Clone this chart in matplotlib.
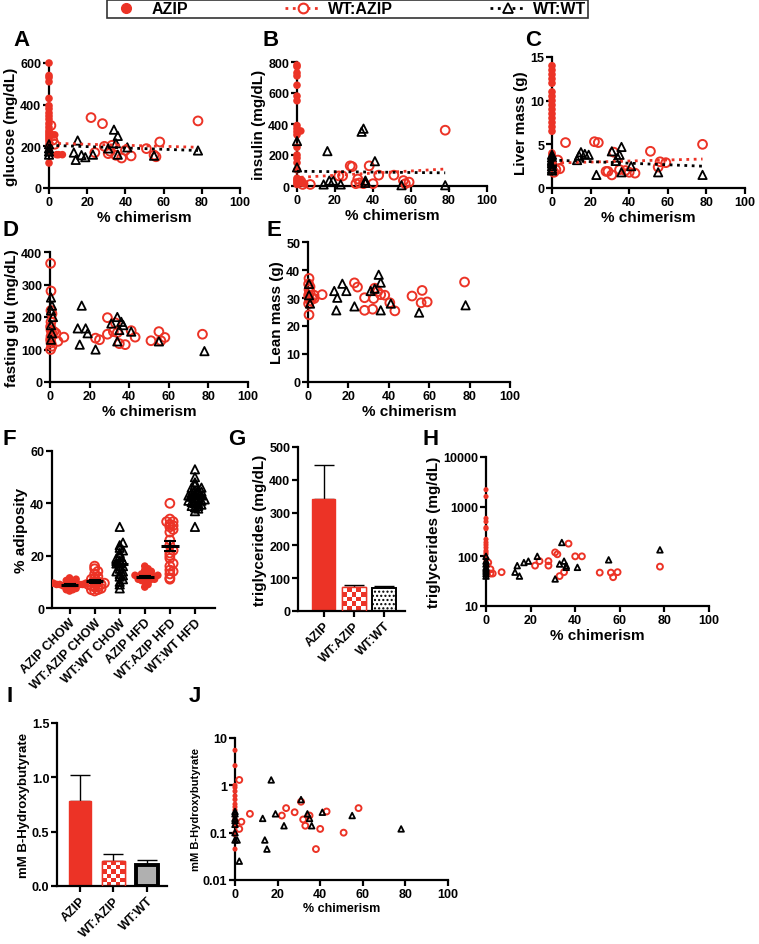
import numpy as np
import matplotlib
matplotlib.use("Agg")
import matplotlib.pyplot as plt
from matplotlib.lines import Line2D
from matplotlib.colors import ListedColormap

RED = "#ec3326"
W, H = 759, 945

# ---------------- data ----------------
# A: glucose
a_azip_x = [0] * 22 + [2, 3, 4, 5, 7]
a_azip_y = [600, 540, 530, 510, 430, 395, 380, 360, 345, 330, 310, 290, 275, 265,
            255, 245, 235, 225, 210, 200, 180, 120, 255, 255, 160, 160, 160]
a_wtazip_x = [1, 2, 3, 22, 24, 28, 29, 31, 32, 33, 35, 38, 40, 43, 51, 55, 56, 58, 78]
a_wtazip_y = [300, 230, 210, 338, 170, 309, 200, 165, 176, 205, 157, 144, 181, 154, 189, 158, 150, 221, 322]
a_wtwt_x = [0, 0, 0, 0, 13, 14, 15, 17, 19, 23, 31, 34, 35, 36, 36, 41, 55, 78]
a_wtwt_y = [210, 190, 175, 160, 170, 135, 228, 158, 148, 160, 190, 280, 215, 250, 160, 195, 155, 180]
a_fit = {"WT:AZIP": (215, -0.25), "WT:WT": (205, -0.32)}

# B: insulin
b_azip_x = [0] * 21 + [2, 2, 3, 4]
b_azip_y = [780, 770, 730, 710, 650, 580, 550, 390, 370, 350, 330, 250, 200, 180, 150,
            105, 50, 40, 30, 20, 10, 355, 30, 20, 15]
b_wtazip_x = [2, 3, 7, 22, 24, 28, 29, 31, 32, 33, 35, 38, 40, 43, 51, 56, 57, 59, 78]
b_wtazip_y = [30, 10, 10, 65, 65, 130, 125, 15, 45, 20, 15, 130, 15, 70, 70, 35, 15, 25, 360]
b_wtwt_x = [0, 0, 14, 16, 17, 19, 23, 34, 35, 36, 36, 41, 55, 78]
b_wtwt_y = [290, 120, 10, 225, 35, 35, 10, 350, 370, 35, 20, 160, 5, 5]
b_fit = {"WT:AZIP": (55, 0.7), "WT:WT": (95, -0.13)}

# C: liver mass
c_azip_x = [0] * 17
c_azip_y = [14, 13.5, 13, 12.5, 12, 11, 10.5, 10, 9.5, 9, 8.5, 8, 7.5, 7, 6.5, 4, 3.8]
c_wtazip_x = [1, 2, 3, 4, 7, 22, 24, 28, 29, 31, 32, 35, 38, 40, 43, 51, 55, 56, 59, 78]
c_wtazip_y = [1.8, 2.1, 3.2, 2.2, 5.2, 5.3, 5.2, 1.9, 1.9, 1.5, 4.1, 2.1, 2.0, 1.8, 1.7, 4.2, 2.4, 3.0, 2.9, 5.0]
c_wtwt_x = [0, 0, 0, 0, 0, 0, 0, 0, 13, 14, 15, 17, 19, 23, 31, 33, 34, 35, 36, 36, 41, 55, 78]
c_wtwt_y = [3.8, 3.5, 3.2, 3.0, 2.8, 2.5, 2.2, 2.0, 3.2, 3.7, 4.1, 3.9, 3.8, 1.5, 4.2, 3.1,
            3.5, 3.8, 4.7, 1.8, 2.5, 1.8, 1.5]
c_fit = {"WT:AZIP": (2.85, 0.006), "WT:WT": (3.2, -0.009)}

# D: fasting glucose
d_wtazip_x = [0.3, 0.5, 0.5, 1, 0.5, 0.3, 0.5, 1, 0.5, 0.3, 0.5, 1, 0.3, 2, 3, 4, 7,
              23, 25, 29, 29, 32, 33, 34, 35, 38, 41, 43, 51, 55, 56, 58, 77]
d_wtazip_y = [365, 280, 220, 210, 185, 170, 160, 150, 140, 130, 120, 110, 100, 155, 150, 125, 138,
              135, 130, 198, 147, 155, 182, 152, 118, 115, 158, 138, 127, 155, 127, 137, 147]
d_wtwt_x = [0.5, 1, 0.5, 1.5, 0.5, 1, 0.5, 14, 15, 16, 18, 19, 23, 31, 34, 34, 35, 36, 37, 41, 55, 78]
d_wtwt_y = [260, 235, 220, 200, 175, 150, 130, 165, 115, 235, 165, 150, 100, 180, 200, 125,
            160, 185, 175, 155, 125, 95]

# E: lean mass
e_wtazip_x = [0.5, 0.3, 0.5, 0.3, 0.5, 1, 0.3, 0.5, 1, 1, 2, 3, 3, 7,
              23, 24.5, 28, 28, 32, 32.5, 33, 34.5, 36, 38, 40.5, 43, 51.5, 56.5, 56, 59, 77.5]
e_wtazip_y = [37, 35, 33, 31, 30, 29, 28, 24, 34, 32, 30, 31, 29.8, 31.2,
              35.4, 33.9, 30.1, 25.6, 26, 29.8, 33.5, 32.3, 31.2, 31, 28.3, 25.4, 30.7, 32.7, 28.3, 28.6, 35.7]
e_wtwt_x = [0.5, 0.5, 1, 13, 14.5, 14, 17, 19, 23, 31, 33, 35, 36, 36, 41, 55, 78]
e_wtwt_y = [35, 31, 28, 32.5, 30.1, 25.6, 35.1, 32.5, 27, 32.5, 33.3, 38.3, 35.5, 25.6, 28, 24.8, 27.4]

# F: % adiposity
f_groups = ["AZIP CHOW", "WT:AZIP CHOW", "WT:WT CHOW", "AZIP HFD", "WT:AZIP HFD", "WT:WT HFD"]
f_vals = [
    [6.5, 7, 7.5, 8, 8, 8.5, 8.5, 9, 9, 9, 9.5, 9.5, 10, 10, 10.5, 11, 11.5, 7, 8, 9],
    [6.5, 7, 7, 7.5, 8, 8, 8.5, 9, 9, 9.5, 10, 10, 11, 11.5, 12, 13, 14, 15, 16],
    [7.5, 9, 10, 11, 12, 12.5, 13, 14, 15, 16, 17, 18, 19, 20, 21, 22, 23, 24, 25, 31, 14, 16, 18],
    [8, 9, 10, 10.5, 11, 11, 11.5, 11.5, 12, 12, 12, 12.5, 12.5, 13, 13, 14, 14.5, 15, 16, 10, 11, 12, 13],
    [11, 11.5, 13, 14, 14.5, 16, 17, 19, 20, 21, 22, 24, 26, 29, 30, 31, 31.5, 32, 33, 33, 34, 40],
    [31, 37, 38, 38.5, 39, 39, 39.5, 40, 40, 40.5, 41, 41, 41.5, 42, 42, 42.5, 43, 43, 43.5, 44,
     44, 44.5, 45, 45, 46, 46, 47, 48, 50, 53],
]
f_kind = ["AZIP", "WT:AZIP", "WT:WT", "AZIP", "WT:AZIP", "WT:WT"]

# G: triglycerides bars
bar_groups = ["AZIP", "WT:AZIP", "WT:WT"]
g_mean = [340, 72, 70]
g_sem = [105, 8, 6]

# H: triglycerides vs chimerism
h_azip_x = [0] * 16
h_azip_y = [2200, 1600, 580, 500, 380, 360, 220, 190, 170, 150, 130, 120, 110, 90, 80, 70]
h_wtazip_x = [1, 2, 2, 3, 7, 22, 24, 28, 28, 31, 32, 33, 35, 37, 40, 43, 51, 56, 57, 59, 78]
h_wtazip_y = [75, 55, 45, 45, 48, 65, 80, 80, 65, 120, 110, 40, 48, 180, 100, 100, 47, 47, 38, 48, 62]
h_wtwt_x = [0, 0, 0, 0, 0, 0, 0, 0, 13, 14, 15, 17, 19, 23, 31, 33, 34, 35, 36, 36, 41, 55, 78]
h_wtwt_y = [100, 80, 70, 60, 55, 50, 45, 40, 48, 65, 40, 75, 80, 100, 35, 70, 190, 80, 60, 65, 60, 85, 135]

# I: B-hydroxybutyrate bars
i_mean = [0.78, 0.23, 0.19]
i_sem = [0.24, 0.06, 0.05]

# J: B-hydroxybutyrate vs chimerism
j_azip_x = [0] * 16
j_azip_y = [5.5, 2.6, 1.0, 0.9, 0.75, 0.6, 0.5, 0.4, 0.35, 0.3, 0.25, 0.2, 0.15, 0.1, 0.09, 0.045]
j_wtazip_x = [2, 2, 3, 7, 22, 24, 28, 31, 32, 33, 35, 38, 40, 43, 51, 58]
j_wtazip_y = [1.3, 0.12, 0.17, 0.25, 0.23, 0.33, 0.27, 0.45, 0.19, 0.14, 0.23, 0.045, 0.12, 0.28, 0.1, 0.33]
j_wtwt_x = [0, 0, 0, 0, 0, 0, 0, 1, 2, 13, 14, 15, 17, 19, 23, 31, 34, 35, 36, 41, 55, 78]
j_wtwt_y = [0.28, 0.25, 0.2, 0.18, 0.15, 0.1, 0.07, 0.07, 0.025, 0.2, 0.07, 0.045, 1.3, 0.25,
            0.14, 0.5, 0.25, 0.2, 0.14, 0.27, 0.23, 0.12]

# ---------------- style ----------------
plt.rcParams["font.family"] = ["Liberation Sans", "DejaVu Sans"]
plt.rcParams["font.weight"] = "bold"
plt.rcParams["axes.labelweight"] = "bold"
plt.rcParams["axes.linewidth"] = 1.6
plt.rcParams["xtick.major.width"] = 1.6
plt.rcParams["ytick.major.width"] = 1.6
plt.rcParams["xtick.major.size"] = 4
plt.rcParams["ytick.major.size"] = 4
plt.rcParams["xtick.major.pad"] = 2
plt.rcParams["ytick.major.pad"] = 1.5
plt.rcParams["xtick.labelsize"] = 9
plt.rcParams["ytick.labelsize"] = 9
plt.rcParams["axes.labelsize"] = 11
plt.rcParams["axes.labelpad"] = 1.5

fig = plt.figure(figsize=(W / 100, H / 100), dpi=100)


def add_ax(l, r, t, b):
    ax = fig.add_axes([l / W, 1 - b / H, (r - l) / W, (b - t) / H])
    ax.spines["top"].set_visible(False)
    ax.spines["right"].set_visible(False)
    ax.patch.set_alpha(0)
    return ax


def styles(small=False):
    k = 0.45 if small else 1.0
    return {
        "AZIP": dict(marker="o", s=30 * k, color=RED, edgecolors="none"),
        "WT:AZIP": dict(marker="o", s=40 * k, facecolors="none", edgecolors=RED, linewidths=1.4),
        "WT:WT": dict(marker="^", s=36 * k, facecolors="none", edgecolors="black", linewidths=1.3),
    }


def chim_panel(ax, series, ylim, yticks, ylabel, fits=None, small=False, log=False, ytl=None):
    st = styles(small)
    for name, xs, ys in series:
        ax.scatter(xs, ys, clip_on=False, zorder=3, **st[name])
        if fits and name in fits:
            b0, b1 = fits[name]
            xr = np.array([min(xs), max(xs)])
            ax.plot(xr, b0 + b1 * xr, ls=":", lw=2, color=RED if name == "WT:AZIP" else "black",
                    zorder=4)
    if log:
        ax.set_yscale("log")
        ax.minorticks_off()
    ax.set_ylim(*ylim)
    ax.set_yticks(yticks)
    if ytl:
        ax.set_yticklabels(ytl)
    ax.set_xlim(0, 100)
    ax.set_xticks(range(0, 101, 20))
    ax.set_xlabel("% chimerism", fontsize=9 if small else 11)
    ax.set_ylabel(ylabel)


axA = add_ax(49, 240, 64, 189)
chim_panel(axA, [("AZIP", a_azip_x, a_azip_y), ("WT:AZIP", a_wtazip_x, a_wtazip_y),
                 ("WT:WT", a_wtwt_x, a_wtwt_y)], (0, 600), [0, 200, 400, 600],
           "glucose (mg/dL)", fits=a_fit)

axB = add_ax(297, 487, 63, 187)
chim_panel(axB, [("AZIP", b_azip_x, b_azip_y), ("WT:AZIP", b_wtazip_x, b_wtazip_y),
                 ("WT:WT", b_wtwt_x, b_wtwt_y)], (0, 800), [0, 200, 400, 600, 800],
           "insulin (mg/dL)", fits=b_fit)

axC = add_ax(552, 745, 58, 189)
chim_panel(axC, [("AZIP", c_azip_x, c_azip_y), ("WT:AZIP", c_wtazip_x, c_wtazip_y),
                 ("WT:WT", c_wtwt_x, c_wtwt_y)], (0, 15), [0, 5, 10, 15],
           "Liver mass (g)", fits=c_fit)

axD = add_ax(50, 248, 253, 383)
chim_panel(axD, [("WT:AZIP", d_wtazip_x, d_wtazip_y), ("WT:WT", d_wtwt_x, d_wtwt_y)],
           (0, 400), [0, 100, 200, 300, 400], "fasting glu (mg/dL)")

axE = add_ax(308, 510, 243, 383)
chim_panel(axE, [("WT:AZIP", e_wtazip_x, e_wtazip_y), ("WT:WT", e_wtwt_x, e_wtwt_y)],
           (0, 50), [0, 10, 20, 30, 40, 50], "Lean mass (g)")


# F: scatter dot plot with mean +- SEM
def swarm(vals, step, binw):
    vals = np.asarray(vals, float)
    order = np.argsort(vals, kind="stable")
    bins = np.floor(vals / binw)
    offs = np.zeros(len(vals))
    for b in np.unique(bins):
        idx = [i for i in order if bins[i] == b]
        for k, i in enumerate(idx):
            m = (k + 1) // 2
            offs[i] = m * step * (1 if k % 2 else -1)
    return offs


axF = add_ax(52, 215, 452, 609)
stF = styles()
for i, (vals, kind) in enumerate(zip(f_vals, f_kind)):
    xs = i + swarm(vals, 0.13, 1.6)
    axF.scatter(xs, vals, zorder=3, **stF[kind])
    m = np.mean(vals)
    se = np.std(vals, ddof=1) / np.sqrt(len(vals))
    axF.hlines(m, i - 0.35, i + 0.35, color="black", lw=2.2, zorder=5)
    axF.errorbar(i, m, yerr=se, fmt="none", ecolor="black", elinewidth=1.5, capsize=4,
                 capthick=1.5, zorder=5)
axF.set_xlim(-0.7, 5.8)
axF.set_ylim(0, 60)
axF.set_yticks([0, 20, 40, 60])
axF.set_xticks(range(len(f_groups)))
axF.set_xticklabels(f_groups, rotation=45, ha="right", rotation_mode="anchor", fontsize=9)
axF.set_ylabel("% adiposity")


def checker(ax, bar, nx, ny, color):
    x0, y0 = bar.get_x(), bar.get_y()
    w, h = bar.get_width(), bar.get_height()
    grid = np.add.outer(np.arange(ny), np.arange(nx)) % 2
    im = ax.imshow(grid, extent=(x0, x0 + w, y0, y0 + h), cmap=ListedColormap(["white", color]),
                   aspect="auto", origin="lower", interpolation="nearest", zorder=2)
    im.set_clip_path(bar)


def bar_panel(ax, means, sems, width, ylim, yticks, ylabel, ytl, wt_face, wt_hatch, wt_lw, ncheck):
    xs = np.arange(len(means))
    bars = ax.bar(xs, means, width=width, zorder=1)
    bars[0].set_facecolor(RED)
    bars[0].set_edgecolor(RED)
    bars[1].set_facecolor("white")
    bars[1].set_edgecolor(RED)
    bars[2].set_facecolor(wt_face)
    bars[2].set_edgecolor("black")
    bars[2].set_linewidth(wt_lw)
    if wt_hatch:
        bars[2].set_hatch(wt_hatch)
    checker(ax, bars[1], ncheck[0], ncheck[1], RED)
    ax.bar(xs[1], means[1], width=width, facecolor="none", edgecolor=RED, lw=1, zorder=3)
    ax.errorbar(xs, means, yerr=[np.zeros(len(sems)), sems], fmt="none", ecolor="black",
                elinewidth=1, capsize=7, capthick=1, zorder=0)
    ax.set_ylim(*ylim)
    ax.set_yticks(yticks)
    if ytl:
        ax.set_yticklabels(ytl)
    ax.set_xticks(xs)
    ax.set_xticklabels(bar_groups, rotation=45, ha="right", rotation_mode="anchor", fontsize=9)
    ax.set_ylabel(ylabel)


axG = add_ax(298, 405, 448, 612)
bar_panel(axG, g_mean, g_sem, 0.78, (0, 500), [0, 100, 200, 300, 400, 500],
          "triglycerides (mg/dL)", None, "white", "....", 1.4, (5, 5))
axG.set_xlim(-0.85, 2.7)

axH = add_ax(486, 709, 458, 607)
chim_panel(axH, [("AZIP", h_azip_x, h_azip_y), ("WT:AZIP", h_wtazip_x, h_wtazip_y),
                 ("WT:WT", h_wtwt_x, h_wtwt_y)], (10, 10000), [10, 100, 1000, 10000],
           "triglycerides (mg/dL)", small=True, log=True, ytl=["10", "100", "1000", "10000"])
axH.set_xlabel("% chimerism", fontsize=11)

axI = add_ax(57, 167, 724, 887)
bar_panel(axI, i_mean, i_sem, 0.67, (0, 1.5), [0, 0.5, 1.0, 1.5], "mM B-Hydroxybutyrate",
          ["0.0", "0.5", "1.0", "1.5"], "#b0b0b0", None, 2.8, (5, 6))
axI.set_xlim(-0.68, 2.6)
axI.yaxis.label.set_size(9.5)

axJ = add_ax(235, 448, 739, 881)
chim_panel(axJ, [("AZIP", j_azip_x, j_azip_y), ("WT:AZIP", j_wtazip_x, j_wtazip_y),
                 ("WT:WT", j_wtwt_x, j_wtwt_y)], (0.01, 10), [0.01, 0.1, 1, 10],
           "mM B-Hydroxybutyrate", small=True, log=True, ytl=["0.01", "0.1", "1", "10"])
axJ.yaxis.label.set_size(8)
axJ.tick_params(labelsize=9)

# panel letters
letters = {"A": (13, 40), "B": (263, 40), "C": (525, 41), "D": (2, 230), "E": (267, 230),
           "F": (3, 440), "G": (228, 440), "H": (423, 440), "I": (6, 697), "J": (189, 697)}
for lab, (px, py) in letters.items():
    fig.text(px / W, 1 - py / H, lab, fontsize=16, fontweight="bold", va="center", ha="left")

# legend
handles = [
    Line2D([], [], ls="none", marker="o", color=RED, markersize=7),
    Line2D([], [], ls=":", lw=2, marker="o", color=RED, mfc="white", markersize=7, mew=1.5),
    Line2D([], [], ls=":", lw=2, marker="^", color="black", mfc="white", markersize=7, mew=1.3),
]
leg = fig.legend(handles, ["AZIP", "WT:AZIP", "WT:WT"], loc="upper left", ncol=3, mode="expand",
                 bbox_to_anchor=(107 / W, 1 - 21 / H, 481 / W, 20.5 / H), frameon=True,
                 fancybox=False, edgecolor="black", prop={"size": 11.5, "weight": "bold"},
                 handlelength=2.2, borderpad=0.1, handletextpad=0.5, borderaxespad=0)
leg.get_frame().set_linewidth(1.2)

fig.savefig("out.png", dpi=100)
